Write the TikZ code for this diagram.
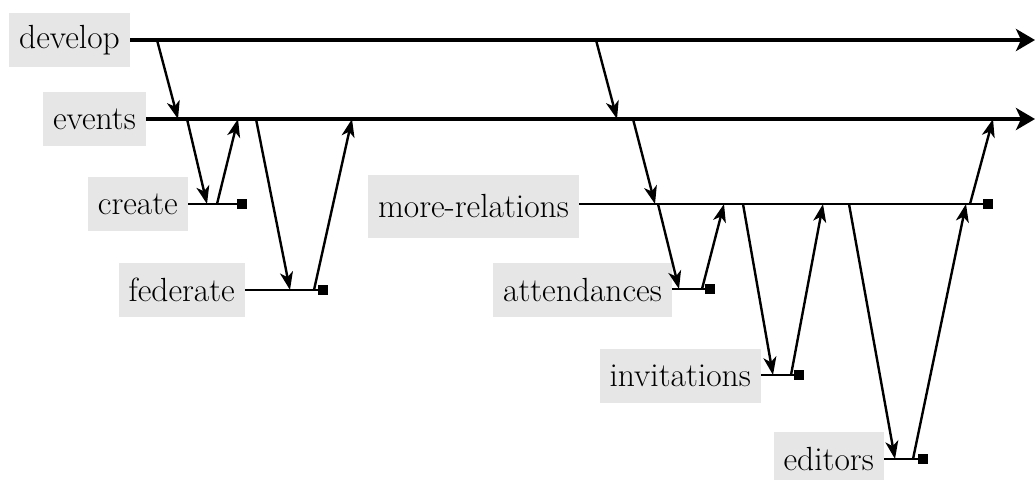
\documentclass[tikz,border=0pt]{standalone}
\usetikzlibrary{arrows.meta}

\definecolor{labelgray}{RGB}{230,230,230}

\tikzset{
    branch/.style={fill=labelgray, anchor=east, inner xsep=10pt, minimum height=54pt,
                   font=\fontsize{33.5}{40}\selectfont},
    trunk/.style={line width=4pt, -{Stealth[length=19pt, width=22pt, inset=5pt]}},
    twig/.style={line width=2pt},
    hop/.style={line width=2.4pt, -{Stealth[length=18pt, width=13pt, inset=5pt]}},
    tipbox/.style={fill, inner sep=0pt, minimum size=10pt}
}

\begin{document}
\begin{tikzpicture}[x=1pt, y=-1pt]
    \useasboundingbox (0,0) rectangle (1035,479);

    % ==========================================
    % Long-lived branches
    % ==========================================
    \node[branch] (develop) at (130,40) {develop};
    \node[branch] (events) at (146,119) {events};
    \coordinate (develop-end) at (1035,40);
    \coordinate (events-end) at (1035,119);
    \draw[trunk] (develop.east) -- (develop-end);
    \draw[trunk] (events.east) -- (events-end);

    % ==========================================
    % Feature branches off events
    % ==========================================
    \node[branch] (create) at (188,204) {create};
    \node[branch] (federate) at (245,290) {federate};
    \node[branch, minimum height=63pt] (morerel) at (579,206) {more-relations};
    \node[tipbox] (create-end) at (242,204) {};
    \node[tipbox] (federate-end) at (323,290) {};
    \node[tipbox] (morerel-end) at (988,204) {};
    \draw[twig] (create.east) -- (create-end.center);
    \draw[twig] (federate.east |- 0,290) -- (federate-end.center);
    \draw[twig] (morerel.east |- 0,204) -- (morerel-end.center);

    % ==========================================
    % Feature branches off more-relations
    % ==========================================
    \node[branch] (attend) at (672,290) {attendances};
    \node[branch] (invite) at (761,376) {invitations};
    \node[branch] (editors) at (884,459) {editors};
    \node[tipbox] (attend-end) at (710,289) {};
    \node[tipbox] (invite-end) at (799,375) {};
    \node[tipbox] (editors-end) at (923,459) {};
    \draw[twig] (attend.east |- 0,289) -- (attend-end.center);
    \draw[twig] (invite.east |- 0,375) -- (invite-end.center);
    \draw[twig] (editors.east) -- (editors-end.center);

    % ==========================================
    % Branch and merge points
    % ==========================================
    % develop <-> events
    \coordinate (d1) at (157,40);   \coordinate (e1) at (178,119);
    \coordinate (d2) at (596,40);   \coordinate (e2) at (617,119);
    % events <-> create, federate, more-relations
    \coordinate (e3) at (187,119);  \coordinate (c1) at (207,204);
    \coordinate (c2) at (217,204);  \coordinate (e4) at (238,119);
    \coordinate (e5) at (256,119);  \coordinate (f1) at (290,290);
    \coordinate (f2) at (314,290);  \coordinate (e6) at (352,119);
    \coordinate (e7) at (633,119);  \coordinate (m1) at (655,204);
    \coordinate (m8) at (970,204);  \coordinate (e8) at (993,119);
    % more-relations <-> attendances, invitations, editors
    \coordinate (m2) at (658,204);  \coordinate (a1) at (679,289);
    \coordinate (a2) at (702,289);  \coordinate (m3) at (724,204);
    \coordinate (m4) at (743,204);  \coordinate (i1) at (773,375);
    \coordinate (i2) at (791,375);  \coordinate (m5) at (823,204);
    \coordinate (m6) at (849,204);  \coordinate (ed1) at (895,459);
    \coordinate (ed2) at (913,459); \coordinate (m7) at (966,204);

    \foreach \from/\to in {d1/e1, d2/e2, e3/c1, c2/e4, e5/f1, f2/e6, e7/m1, m8/e8,
                           m2/a1, a2/m3, m4/i1, i2/m5, m6/ed1, ed2/m7}
        \draw[hop] (\from) -- (\to);
\end{tikzpicture}
\end{document}
